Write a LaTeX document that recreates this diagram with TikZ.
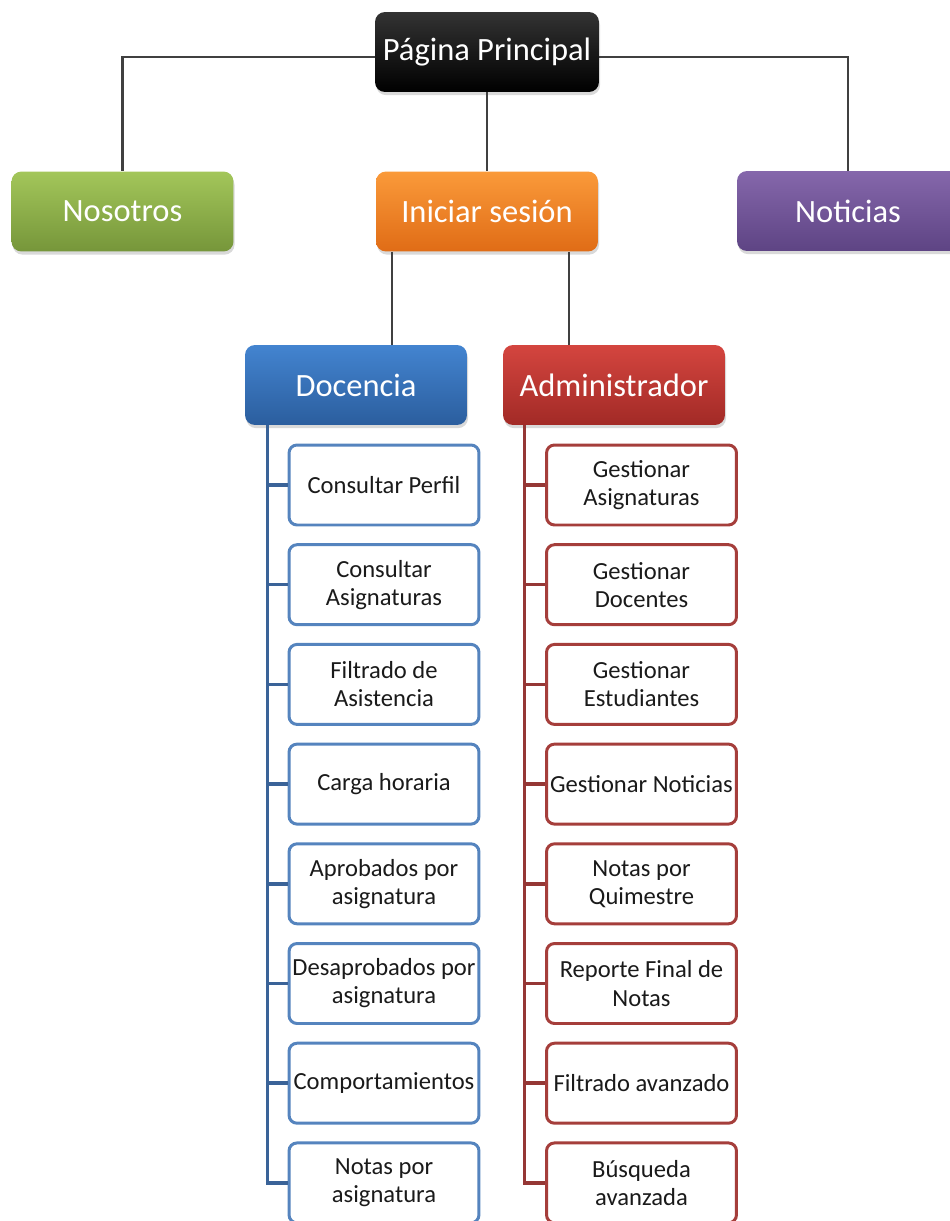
\documentclass[tikz,border=0pt]{standalone}
\usepackage{fontspec}
\setmainfont{Carlito}
\usepackage{xcolor}
\usepackage{tikz}
\usetikzlibrary{calc,shadows,positioning}
\definecolor{linegray}{HTML}{404040}
\definecolor{blacktop}{HTML}{333333}
\definecolor{blackbot}{HTML}{000000}
\definecolor{greentop}{HTML}{A3C65A}
\definecolor{greenbot}{HTML}{76963A}
\definecolor{orangetop}{HTML}{FA9A3A}
\definecolor{orangebot}{HTML}{E06C16}
\definecolor{purpletop}{HTML}{8567AB}
\definecolor{purplebot}{HTML}{5E4484}
\definecolor{bluetop}{HTML}{4384D0}
\definecolor{bluebot}{HTML}{2B5E9E}
\definecolor{redtop}{HTML}{D4453F}
\definecolor{redbot}{HTML}{A22A26}
\definecolor{docborder}{HTML}{5584BE}
\definecolor{docline}{HTML}{3A6398}
\definecolor{admborder}{HTML}{A53E3B}
\definecolor{admline}{HTML}{953735}
\definecolor{subtext}{HTML}{1A1A1A}
\tikzset{
  mainbox/.style={rounded corners=0.2cm, minimum width=4.44cm, minimum height=1.6cm,
    text=white, font=\fontsize{18.5}{22}\selectfont,
    drop shadow={opacity=0.3, shadow xshift=0.6pt, shadow yshift=-1.8pt}},
  subbox/.style={draw, rounded corners=0.16cm, line width=1.7pt, fill=white,
    minimum width=3.8cm, minimum height=1.6cm, align=center, inner xsep=1pt,
    text=subtext, font=\fontsize{14}{16}\selectfont},
  docbox/.style={subbox, draw=docborder},
  admbox/.style={subbox, draw=admborder},
  link/.style={draw=linegray, line width=1.4pt},
  docspine/.style={draw=docline, line width=2pt},
  admspine/.style={draw=admline, line width=2pt}
}

\begin{document}
\begin{tikzpicture}[x=0.02cm, y=-0.02cm]
  \clip (0,0) rectangle (950,1221);

  % first level
  \node[mainbox, top color=blacktop, bottom color=blackbot, minimum width=4.48cm] (pagina) at (487,52) {Página Principal};
  \node[mainbox, top color=greentop, bottom color=greenbot] (nosotros) at (122.5,211.5) {Nosotros};
  \node[mainbox, top color=orangetop, bottom color=orangebot] (iniciar) at (487,211.5) {Iniciar sesión};
  \node[mainbox, top color=purpletop, bottom color=purplebot] (noticias) at (848,211) {Noticias};

  \draw[link] ([yshift=-0.1cm]pagina.west) -| (nosotros.north);
  \draw[link] ([yshift=-0.1cm]pagina.east) -| (noticias.north);
  \draw[link] (pagina.south) -- (iniciar.north);

  % second level
  \node[mainbox, top color=bluetop, bottom color=bluebot] (docencia) at (356,385) {Docencia};
  \node[mainbox, top color=redtop, bottom color=redbot] (admin) at (614,385) {Administrador};

  \path (iniciar.south) ++(-95,0) coordinate (dsplit);
  \path (iniciar.south) ++(82,0) coordinate (asplit);
  \draw[link] (dsplit) -- (dsplit |- docencia.north);
  \draw[link] (asplit) -- (asplit |- admin.north);

  % options
  \foreach \txt [count=\i] in {Consultar Perfil, {Consultar\\Asignaturas}, {Filtrado de\\Asistencia},
      Carga horaria, {Aprobados por\\asignatura}, {Desaprobados por\\asignatura},
      Comportamientos, {Notas por\\asignatura}}
    \node[docbox] (d\i) at (384,{485+99.7*(\i-1)}) {\txt};
  \foreach \txt [count=\i] in {{Gestionar\\Asignaturas}, {Gestionar\\Docentes}, {Gestionar\\Estudiantes},
      Gestionar Noticias, {Notas por\\Quimestre}, {Reporte Final de\\Notas},
      Filtrado avanzado, {Búsqueda\\avanzada}}
    \node[admbox] (a\i) at (641.5,{485+99.7*(\i-1)}) {\txt};

  \path (docencia.south west) ++(23,0) coordinate (dtop);
  \path (admin.south west) ++(22,0) coordinate (atop);
  \draw[docspine] (dtop) |- (d8.west);
  \draw[admspine] (atop) |- (a8.west);
  \foreach \i in {1,...,7} {
    \draw[docspine] (dtop |- d\i.west) -- (d\i.west);
    \draw[admspine] (atop |- a\i.west) -- (a\i.west);
  }
\end{tikzpicture}
\end{document}
